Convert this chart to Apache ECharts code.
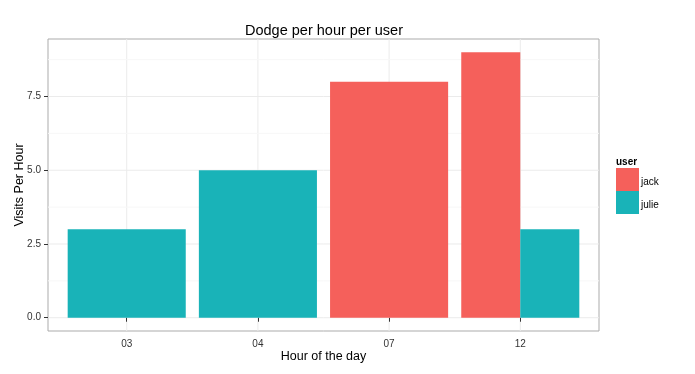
<!DOCTYPE html>
<html><head><meta charset="utf-8">
<script src="https://cdn.jsdelivr.net/npm/echarts@6/dist/echarts.min.js"></script>
<style>html,body{margin:0;padding:0;background:#fff}#c{width:695px;height:374px}</style>
</head><body><div id="c"></div>
<script>
const categories = ['03', '04', '07', '12'];
const users = ['jack', 'julie'];
const jack = [null, null, 8, 9];
const julie = [3, 5, null, 3];
const yTicks = [0, 2.5, 5, 7.5];
const yMinor = [1.25, 3.75, 6.25, 8.75];
const colors = ['#F5605B', '#19B3B8'];

const seriesVals = [jack, julie];
const FONT = '"Liberation Sans", Arial, sans-serif';

function barData(u) {
  const out = [];
  categories.forEach((c, i) => {
    const v = seriesVals[u][i];
    if (v == null) return;
    const present = seriesVals.map(s => s[i] != null);
    const n = present.filter(Boolean).length;
    let k = 0;
    for (let j = 0; j < u; j++) if (present[j]) k++;
    out.push([i + 1, v, k, n]);
  });
  return out;
}

function renderBar(params, api) {
  const x = api.value(0), v = api.value(1), k = api.value(2), n = api.value(3);
  const w = 0.9 / n;
  const x0 = x - 0.45 + k * w, x1 = x0 + w;
  const p0 = api.coord([x0, v]);
  const p1 = api.coord([x1, 0]);
  return {
    type: 'rect',
    shape: { x: p0[0], y: p0[1], width: p1[0] - p0[0], height: p1[1] - p0[1] },
    style: { fill: api.visual('color') }
  };
}

const gridLines = [];
categories.forEach((c, i) => gridLines.push(['v', i + 1, 'major']));
yTicks.forEach(t => gridLines.push(['h', t, 'major']));
yMinor.forEach(t => gridLines.push(['h', t, 'minor']));

function renderGrid(params, api) {
  const d = gridLines[params.dataIndex];
  const cs = params.coordSys;
  let shape;
  if (d[0] === 'v') {
    const p = api.coord([d[1], 0]);
    shape = { x1: p[0], y1: cs.y, x2: p[0], y2: cs.y + cs.height };
  } else {
    const p = api.coord([1, d[1]]);
    shape = { x1: cs.x, y1: p[1], x2: cs.x + cs.width, y2: p[1] };
  }
  return {
    type: 'line', shape,
    style: { stroke: d[2] === 'major' ? '#ebebeb' : '#f7f7f7', lineWidth: 1 }
  };
}

const chart = echarts.init(document.getElementById('c'), null, { renderer: 'canvas' });
chart.setOption({
  animation: false,
  backgroundColor: '#fff',
  title: {
    text: 'Dodge per hour per user', left: 324, top: 23, textAlign: 'center', padding: 0,
    textStyle: { fontFamily: FONT, fontSize: 14.5, fontWeight: 'normal', color: '#000' }
  },
  grid: { left: 48, top: 39, width: 551, height: 292, show: true, borderColor: '#ababab', borderWidth: 1, backgroundColor: '#fff', outerBoundsMode: 'none', containLabel: false },
  legend: {
    orient: 'vertical', left: 616, top: 168, itemWidth: 23, itemHeight: 23, itemGap: 0,
    icon: 'rect', data: users,
    formatter: '{t|{name}}',
    textStyle: { fontFamily: FONT, fontSize: 10, color: '#000',
      rich: { t: { fontFamily: FONT, fontSize: 10, color: '#000', padding: [6, 0, 0, -3] } } },
    padding: 0
  },
  graphic: [{
    type: 'text', left: 616, top: 157,
    style: { text: 'user', fontFamily: FONT, fontSize: 10, fontWeight: 'bold', fill: '#000' }
  }],
  xAxis: {
    type: 'value', min: 0.4, max: 4.6,
    name: 'Hour of the day', nameLocation: 'middle', nameGap: 19, nameMoveOverlap: false,
    nameTextStyle: { fontFamily: FONT, fontSize: 12.5, color: '#000' },
    axisLine: { show: false },
    axisTick: { show: true, length: 4, customValues: [1, 2, 3, 4], lineStyle: { color: '#333' } },
    axisLabel: { customValues: [1, 2, 3, 4], formatter: v => categories[Math.round(v) - 1] || '', margin: 8,
      fontFamily: FONT, fontSize: 10, color: '#333' },
    splitLine: { show: false }
  },
  yAxis: {
    type: 'value', min: -0.45, max: 9.45,
    name: 'Visits Per Hour', nameLocation: 'middle', nameGap: 22, nameMoveOverlap: false,
    nameTextStyle: { fontFamily: FONT, fontSize: 12.5, color: '#000' },
    axisLine: { show: false },
    axisTick: { show: true, length: 4, customValues: yTicks, lineStyle: { color: '#333' } },
    axisLabel: { customValues: yTicks, formatter: v => v.toFixed(1), margin: 7,
      fontFamily: FONT, fontSize: 10, color: '#333' },
    splitLine: { show: false }
  },
  series: [
    { type: 'custom', name: '_grid', renderItem: renderGrid, data: gridLines.map((g, i) => [i]), silent: true, z: 0, clip: true, legendHoverLink: false },
    { type: 'custom', name: 'jack', color: colors[0], renderItem: renderBar, data: barData(0), z: 2, encode: { x: 0, y: 1 } },
    { type: 'custom', name: 'julie', color: colors[1], renderItem: renderBar, data: barData(1), z: 2, encode: { x: 0, y: 1 } }
  ]
});
</script></body></html>
